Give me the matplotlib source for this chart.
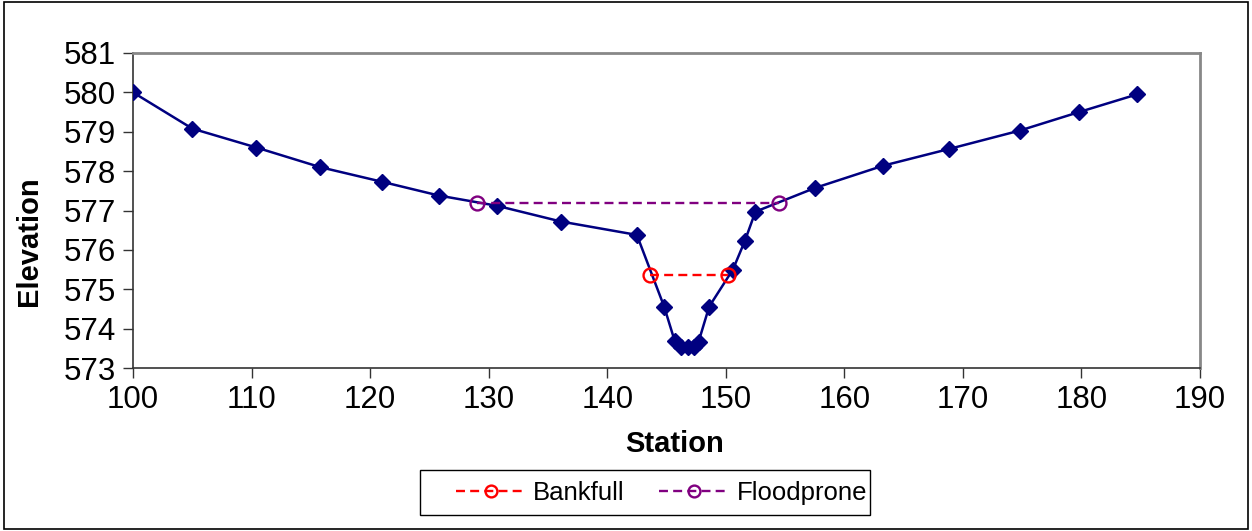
import matplotlib
matplotlib.use('Agg')
import matplotlib.pyplot as plt
from matplotlib.patches import Rectangle

plt.rcParams['font.family'] = ['Liberation Sans', 'DejaVu Sans']

# ── cross-section survey ──
station = [100.0, 105.0, 110.4, 115.8, 121.0, 125.8, 130.7, 136.1, 142.5,
           144.8, 145.7, 146.2, 146.8, 147.3, 147.7, 148.6, 150.6, 151.6,
           152.5, 157.5, 163.3, 168.8, 174.8, 179.8, 184.7]
elevation = [580.0, 579.08, 578.6, 578.1, 577.73, 577.38, 577.12, 576.72, 576.38,
             574.56, 573.68, 573.53, 573.53, 573.53, 573.66, 574.56, 575.5, 576.22,
             576.97, 577.57, 578.14, 578.56, 579.03, 579.5, 579.95]

bankfull_x = [143.6, 150.2]
bankfull_y = [575.35, 575.35]
floodprone_x = [129.0, 154.5]
floodprone_y = [577.2, 577.2]

W, H = 1252, 531
fig = plt.figure(figsize=(W / 100, H / 100), dpi=100)
ax = fig.add_axes([133 / W, 1 - 368 / H, (1200 - 133) / W, (368 - 53) / H])

ax.plot(station, elevation, color='#000080', lw=1.8, marker='D', ms=8.5,
        zorder=3, label='_nolegend_')
ax.plot(bankfull_x, bankfull_y, color='#FF0000', lw=1.7, ls=(0, (3.8, 2.2)),
        marker='o', ms=10, mfc='none', mew=1.7, label='Bankfull', zorder=4)
ax.plot(floodprone_x, floodprone_y, color='#800080', lw=1.7, ls=(0, (3.8, 2.2)),
        marker='o', ms=10, mfc='none', mew=1.7, label='Floodprone', zorder=4)

ax.set_xlim(100, 190)
ax.set_ylim(573, 581)
ax.set_xticks(range(100, 191, 10))
ax.set_yticks(range(573, 582))
ax.tick_params(direction='out', length=7, width=1, labelsize=22.5, color='#333333')
ax.tick_params(axis='x', pad=5)
ax.tick_params(axis='y', pad=5)

for side in ['top', 'right']:
    ax.spines[side].set_color('#888888')
    ax.spines[side].set_linewidth(2)
for side in ['left', 'bottom']:
    ax.spines[side].set_color('#333333')
    ax.spines[side].set_linewidth(1.2)

ax.set_xlabel('Station', fontsize=21, fontweight='bold')
ax.set_ylabel('Elevation', fontsize=21, fontweight='bold')
ax.xaxis.set_label_coords(0.508, -0.197)
ax.yaxis.set_label_coords(-0.0845, 0.403)

# legend entries without frame; box drawn separately
leg = fig.legend(loc='center left', bbox_to_anchor=(456 / W, 1 - 493 / H),
                 bbox_transform=fig.transFigure, ncol=2, fontsize=18.5,
                 frameon=False, handlelength=2.7, handletextpad=0.3,
                 columnspacing=1.35, borderpad=0, borderaxespad=0, markerscale=0.85)
fig.patches.append(Rectangle((420 / W, 1 - 515 / H), 450 / W, 45 / H,
                             transform=fig.transFigure, fill=False,
                             edgecolor='black', lw=1))

# outer chart border
fig.patches.append(Rectangle((0.003, 0.003), 0.994, 0.994, transform=fig.transFigure,
                             fill=False, edgecolor='black', lw=1.2))

fig.savefig('out.png', dpi=100)
